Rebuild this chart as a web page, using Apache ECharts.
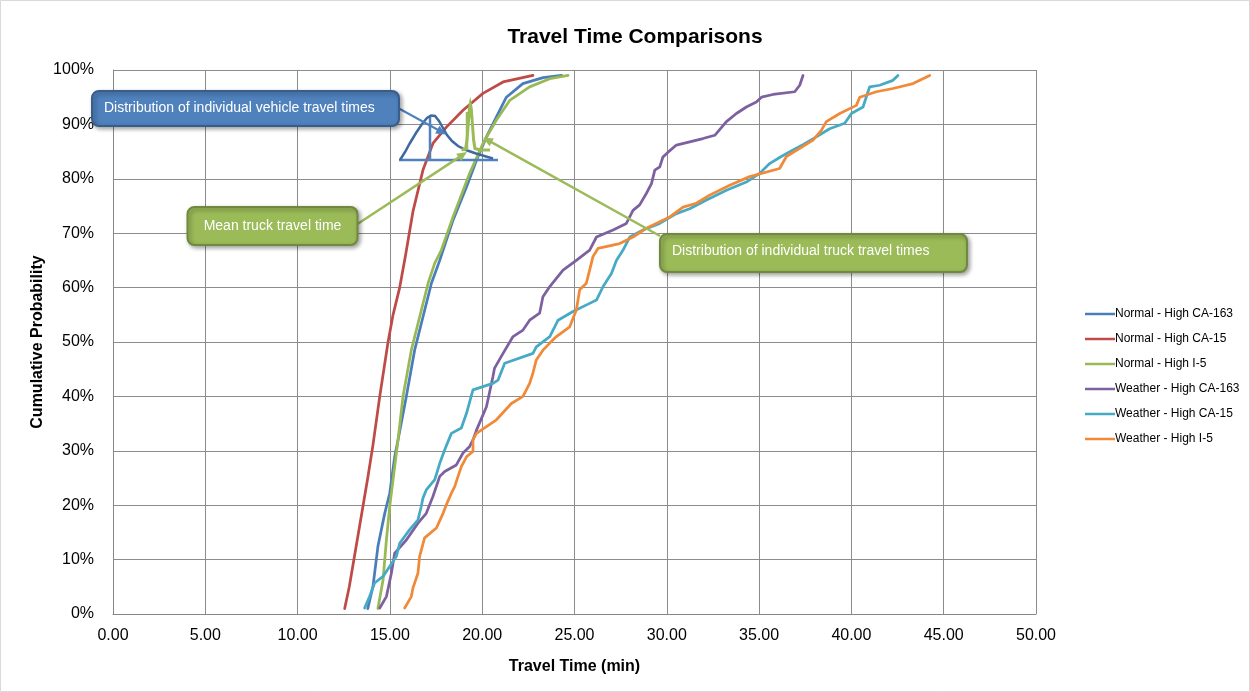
<!DOCTYPE html>
<html>
<head>
<meta charset="utf-8">
<script src="https://cdn.jsdelivr.net/npm/echarts@6/dist/echarts.min.js"></script>
<style>
html,body{margin:0;padding:0;background:#fff;}
#chart{width:1250px;height:692px;}
</style>
</head>
<body>
<div id="chart"></div>
<script>
// ---- data (x = travel time in minutes, y = cumulative probability in %) ----
var seriesNames = ['Normal - High CA-163','Normal - High CA-15','Normal - High I-5','Weather - High CA-163','Weather - High CA-15','Weather - High I-5'];
var xTickLabels = ['0.00','5.00','10.00','15.00','20.00','25.00','30.00','35.00','40.00','45.00','50.00'];
var yTickLabels = ['0%','10%','20%','30%','40%','50%','60%','70%','80%','90%','100%'];

var normalCA163X = [13.8,14.08,14.35,14.72,14.99,15.26,15.44,15.89,16.34,16.79,17.25,17.7,18.42,19.15,19.69,20.23,20.77,21.31,22.2,23.3,24.3];
var normalCA163Y = [1,5,12.4,18.5,22.2,28.9,32,40,48.5,54.6,60.8,65,72.4,78.5,83.4,87.7,91.4,95,97.5,98.6,99];

var normalCA15X = [12.55,12.8,13.0,13.3,13.55,13.8,14.08,14.45,14.9,15.17,15.53,15.85,16.25,16.79,17.33,18.06,18.96,20.04,21.13,22.75];
var normalCA15Y = [1,5,9,15,20,25,31,40,50,55,60,66,74,81.6,86.5,89.5,92.6,95.7,97.8,99];

var normalI5X = [14.35,14.63,14.81,14.99,15.26,15.44,15.71,16.16,16.61,17.07,17.43,17.79,18.42,19.32,20.04,20.77,21.49,22.57,23.66,24.65];
var normalI5Y = [1,6.3,13.6,19.8,27.1,32,40,48.5,54.6,60.8,64.5,66.9,73,81,86.5,90.8,94.4,96.9,98.4,99];

var weatherCA163X = [14.45,14.81,15.08,15.26,15.89,16.52,16.97,17.33,17.7,17.97,18.6,18.96,19.32,19.5,19.69,20.23,20.58,20.67,21.13,21.67,22.21,22.57,23.11,23.29,23.66,24.38,25.1,25.82,26.19,27.09,27.81,28.17,28.53,28.89,29.17,29.35,29.62,29.79,30.07,30.52,31.24,31.96,32.6,33.23,33.77,34.31,34.85,35.13,35.75,36.93,37.2,37.38];
var weatherCA163Y = [1.1,3.2,7.5,11.2,13.6,16.7,18.5,21.6,25.3,26.2,27.4,29.6,30.8,32,33.8,38.1,43.6,45.2,47.9,51,52.2,54,55.3,58.3,60.2,63.2,65,66.9,69.3,70.6,71.8,74.2,75.2,77.3,79.1,81.6,82.2,84,84.9,86.2,86.8,87.4,88,90.5,92,93.2,94.1,95,95.5,96,97.2,99];

var weatherCA15X = [13.63,13.9,14.17,14.63,15.35,15.53,16.07,16.52,16.7,16.79,16.97,17.43,17.7,17.97,18.33,18.87,19.15,19.32,19.5,20.58,20.86,21.22,22.75,22.93,23.66,24.11,24.92,25.82,26.19,26.55,27.0,27.27,27.63,27.9,28.0,28.71,29.62,30.52,31.24,32.15,33.23,34.31,35.03,35.57,36.2,36.84,37.4,38.1,38.82,39.64,40.0,40.63,40.85,40.99,41.53,42.25,42.52];
var weatherCA15Y = [1.1,3.2,5.7,6.9,10.6,13,15.5,17.3,19.8,21.3,22.8,24.7,27.7,30.2,33.2,34.2,36.9,39,41.2,42.4,43,46.1,47.9,49.1,51,54,55.6,57.1,57.7,60.2,62.6,65,66.9,68.7,69.3,70.6,71.8,73.6,74.5,76.1,77.9,79.4,81,82.8,84.1,85.3,86.3,87.7,89.2,90.2,92,93.2,95.5,96.9,97.2,98.1,99];

var weatherI5X = [15.8,16.16,16.25,16.52,16.61,16.88,17.52,17.88,18.06,18.33,18.51,18.69,18.87,19.15,19.5,19.5,19.69,20.77,21.58,22.21,22.57,22.75,22.93,23.29,23.66,24.02,24.74,25.1,25.28,25.64,25.82,26.0,26.27,27.45,28.17,28.89,30.16,30.88,31.6,32.32,33.41,34.49,36.11,36.48,37.2,37.92,38.37,38.64,39.37,40.27,40.45,41.35,42.25,43.34,44.24];
var weatherI5Y = [1.1,3.2,4.8,7.5,10.6,14,15.8,18.5,20.1,22.2,23.4,25.3,27.1,28.9,29.9,32,33.2,35.7,38.7,40,42.4,44.3,46.7,48.5,49.8,51,52.8,55.9,59.6,60.8,63.2,65.7,67.2,68.1,69.3,70.9,73,74.8,75.5,77,78.8,80.4,81.9,84.1,85.6,87.1,88.9,90.5,92,93.5,95,96,96.6,97.5,99];

var seriesColors = ['#4A7EBB','#BE4B48','#98B954','#7D60A0','#46AAC5','#F08A38'];
var calloutVehicle = 'Distribution of individual vehicle travel times';
var calloutMean = 'Mean truck travel time';
var calloutTruck = 'Distribution of individual truck travel times';

// ---- build ----
function zip(xs, ys){ return xs.map(function(x,i){ return [x, ys[i]]; }); }
var allX = [normalCA163X, normalCA15X, normalI5X, weatherCA163X, weatherCA15X, weatherI5X];
var allY = [normalCA163Y, normalCA15Y, normalI5Y, weatherCA163Y, weatherCA15Y, weatherI5Y];

var FONT = '"Liberation Sans", Arial, sans-serif';
var chart = echarts.init(document.getElementById('chart'), null, {renderer:'canvas'});

var series = seriesNames.map(function(name, i){
  return {
    name: name,
    type: 'line',
    data: zip(allX[i], allY[i]),
    showSymbol: false,
    symbol: 'none',
    smooth: false,
    lineStyle: {width: 2.75, color: seriesColors[i], cap: 'round', join: 'round'},
    itemStyle: {color: seriesColors[i]},
    z: 2
  };
});

function arrowHead(x1,y1,x2,y2,len,half){
  var dx=x2-x1, dy=y2-y1, L=Math.sqrt(dx*dx+dy*dy), ux=dx/L, uy=dy/L, px=-uy, py=ux;
  var bx=x2-len*ux, by=y2-len*uy;
  return [[x2,y2],[bx+half*px,by+half*py],[bx-half*px,by-half*py]];
}

var blueFill='#4F81BD', blueStroke='#385D8A', greenFill='#9BBB59', greenStroke='#71893F';
var shadow = {shadowBlur:4, shadowOffsetX:2, shadowOffsetY:2, shadowColor:'rgba(0,0,0,0.35)'};

var graphics = [
  {type:'rect', shape:{x:0.5,y:0.5,width:1249,height:691}, style:{fill:null, stroke:'#d9d9d9', lineWidth:1}, silent:true, z:0},
  // vehicle distribution shape
  {type:'line', shape:{x1:399,y1:160,x2:498,y2:160}, style:{stroke:blueFill, lineWidth:2.5}, z:100},
  {type:'line', shape:{x1:430,y1:117,x2:430,y2:160}, style:{stroke:blueFill, lineWidth:2.5}, z:100},
  {type:'polyline', shape:{points:[[400,160],[405,152],[410,143],[416,133],[422,124],[427,118],[431,115.5],[435,116],[439,121],[443,128],[447,135],[452,141],[458,146],[466,150],[476,153.5],[486,156.5],[493,158.5]]}, style:{stroke:'#3E6AA0', lineWidth:2.5, fill:null}, z:101},
  // truck distribution spike
  {type:'polyline', shape:{points:[[461.5,150],[465.5,149],[467,140],[468.2,125],[469.5,108],[470.3,104],[471.2,108],[472.5,125],[473.6,140],[475,148.5],[480,150],[490,150]]}, style:{stroke:greenFill, lineWidth:3, fill:null}, z:101},
  {type:'line', shape:{x1:467,y1:112,x2:467,y2:150}, style:{stroke:greenFill, lineWidth:2.5}, z:101},
  // callout: vehicle
  {type:'line', shape:{x1:399,y1:108.5,x2:440,y2:131}, style:{stroke:blueFill, lineWidth:2}, z:102},
  {type:'polygon', shape:{points:arrowHead(399,108.5,446,134.5,10,4.5)}, style:{fill:blueFill}, z:102},
  {type:'rect', shape:{x:92,y:91,width:307,height:35,r:7}, style:Object.assign({fill:blueFill, stroke:blueStroke, lineWidth:2}, shadow), z:103},
  {type:'text', style:{text:calloutVehicle, x:104, y:108.5, fill:'#ffffff', font:'14px '+FONT, verticalAlign:'middle', align:'left'}, z:104},
  // callout: mean truck
  {type:'line', shape:{x1:357.5,y1:224,x2:460,y2:156.6}, style:{stroke:greenFill, lineWidth:2.5}, z:102},
  {type:'polygon', shape:{points:arrowHead(357.5,224,467,152,10,4.5)}, style:{fill:greenFill}, z:102},
  {type:'rect', shape:{x:187.5,y:207,width:170,height:38,r:7}, style:Object.assign({fill:greenFill, stroke:greenStroke, lineWidth:2}, shadow), z:103},
  {type:'text', style:{text:calloutMean, x:272.5, y:226, fill:'#ffffff', font:'14px '+FONT, verticalAlign:'middle', align:'center'}, z:104},
  // callout: truck distribution
  {type:'line', shape:{x1:660,y1:236,x2:490,y2:141.4}, style:{stroke:greenFill, lineWidth:2.5}, z:102},
  {type:'polygon', shape:{points:arrowHead(660,236,483,137.5,10,4.5)}, style:{fill:greenFill}, z:102},
  {type:'rect', shape:{x:660,y:234,width:307,height:38,r:7}, style:Object.assign({fill:greenFill, stroke:greenStroke, lineWidth:2}, shadow), z:103},
  {type:'text', style:{text:calloutTruck, x:672, y:251, fill:'#ffffff', font:'14px '+FONT, verticalAlign:'middle', align:'left'}, z:104}
];

var option = {
  animation: false,
  backgroundColor: '#ffffff',
  color: seriesColors,
  title: {
    text: 'Travel Time Comparisons',
    left: 630, top: 22, textAlign: 'center',
    textStyle: {fontFamily: FONT, fontSize: 21, fontWeight: 'bold', color: '#000'}
  },
  legend: {
    orient: 'vertical',
    left: 1080, top: 303,
    itemWidth: 30, itemHeight: 14, itemGap: 13,
    icon: 'path://M0,6 L30,6 L30,8.5 L0,8.5 Z',
    textStyle: {fontFamily: FONT, fontSize: 12, color: '#000', padding:[0,0,0,-5]},
    data: seriesNames
  },
  grid: {left: 113, right: 214, top: 70, bottom: 78, containLabel: false, show: false},
  xAxis: {
    type: 'value', min: 0, max: 50, interval: 5,
    name: 'Travel Time (min)', nameLocation: 'middle', nameGap: 45, nameMoveOverlap: false,
    nameTextStyle: {fontFamily: FONT, fontSize: 16, fontWeight: 'bold', color: '#000'},
    axisLine: {show: true, lineStyle: {color: '#868686', width: 1}},
    axisTick: {show: false},
    axisLabel: {
      margin: 14, fontFamily: FONT, fontSize: 16, color: '#000',
      formatter: function(v){ return xTickLabels[Math.round(v/5)]; }
    },
    splitLine: {show: true, lineStyle: {color: '#8c8c8c', width: 1}}
  },
  yAxis: {
    type: 'value', min: 0, max: 100, interval: 10,
    name: 'Cumulative Probability', nameLocation: 'middle', nameGap: 67, nameRotate: 90, nameMoveOverlap: false,
    nameTextStyle: {fontFamily: FONT, fontSize: 16, fontWeight: 'bold', color: '#000'},
    axisLine: {show: true, lineStyle: {color: '#868686', width: 1}},
    axisTick: {show: false},
    axisLabel: {
      margin: 19, fontFamily: FONT, fontSize: 16, color: '#000',
      formatter: function(v){ return yTickLabels[Math.round(v/10)]; }
    },
    splitLine: {show: true, lineStyle: {color: '#8c8c8c', width: 1}}
  },
  series: series,
  graphic: graphics
};
chart.setOption(option);
</script>
</body>
</html>
